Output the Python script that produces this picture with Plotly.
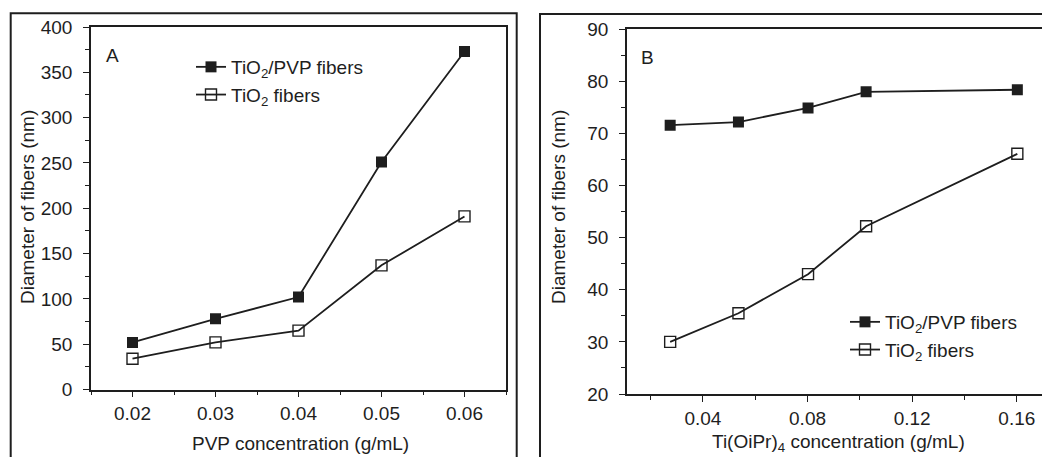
import plotly.graph_objects as go

W, H = 1050, 457
OFF = 8  # page body margin offset

# Panel A data
pvp_conc = [0.02, 0.03, 0.04, 0.05, 0.06]
a_tio2_pvp = [52, 78, 102, 251, 373]
a_tio2 = [34, 52, 65, 137, 191]

# Panel B data
ti_conc = [0.0275, 0.0536, 0.0802, 0.1024, 0.1602]
b_tio2_pvp = [71.6, 72.2, 74.9, 78.0, 78.4]
b_tio2 = [30.0, 35.5, 43.0, 52.2, 66.1]

name_pvp = "TiO<sub>2</sub>/PVP fibers"
name_tio2 = "TiO<sub>2</sub> fibers"

FONT = "Liberation Sans, Arial, sans-serif"
INK = "#1e1e1e"
FS = 19

def px(x):
    return (x - OFF) / W

def py(y):
    return 1 - (y - OFF) / H

fig = go.Figure()

line = dict(color=INK, width=1.8)
filled = dict(symbol="square", size=11, color=INK)
hollow = dict(symbol="square-open", size=11, color=INK, line=dict(width=1.4))

fig.add_trace(go.Scatter(x=pvp_conc, y=a_tio2_pvp, mode="lines+markers", name=name_pvp,
                         line=line, marker=filled,
                         xaxis="x", yaxis="y", legend="legend", legendgroup="a1"))
fig.add_trace(go.Scatter(x=pvp_conc, y=a_tio2, mode="lines+markers", name=name_tio2,
                         line=line, marker=hollow,
                         xaxis="x", yaxis="y", legend="legend", legendgroup="a2"))
fig.add_trace(go.Scatter(x=ti_conc, y=b_tio2_pvp, mode="lines+markers", name=name_pvp,
                         line=line, marker=filled,
                         xaxis="x2", yaxis="y2", legend="legend2", legendgroup="b1"))
fig.add_trace(go.Scatter(x=ti_conc, y=b_tio2, mode="lines+markers", name=name_tio2,
                         line=line, marker=hollow,
                         xaxis="x2", yaxis="y2", legend="legend2", legendgroup="b2"))

axis_common = dict(showline=True, mirror=True, linecolor=INK, linewidth=1.6,
                   ticks="outside", ticklen=6, tickwidth=1.4, tickcolor=INK,
                   showgrid=False, zeroline=False, automargin=False,
                   tickfont=dict(family=FONT, size=FS, color=INK))

fig.update_layout(
    width=W, height=H,
    margin=dict(l=0, r=0, t=0, b=0, pad=0),
    paper_bgcolor="white", plot_bgcolor="white",
    font=dict(family=FONT, size=FS, color=INK),
    xaxis=dict(domain=[px(91), px(506)], range=[0.015, 0.065], tick0=0.02, dtick=0.01,
               tickformat=".2f", anchor="y",
               minor=dict(dtick=0.005, tick0=0.015, ticklen=4, tickcolor=INK, ticks="outside"),
               **axis_common),
    yaxis=dict(domain=[py(389.5), py(27)], range=[0, 400], dtick=50, anchor="x",
               ticklabelstandoff=7,
               minor=dict(dtick=25, ticklen=4, tickcolor=INK, ticks="outside"),
               **axis_common),
    xaxis2=dict(domain=[px(627), px(1049)], range=[0.011, 0.1723], tick0=0, dtick=0.04,
                tickformat=".2f", anchor="y2",
                minor=dict(dtick=0.02, tick0=0, ticklen=4, tickcolor=INK, ticks="outside"),
                **axis_common),
    yaxis2=dict(domain=[py(394), py(29.3)], range=[20, 90], dtick=10, anchor="x2",
                ticklabelstandoff=7,
                minor=dict(dtick=5, ticklen=4, tickcolor=INK, ticks="outside"),
                **axis_common),
    legend=dict(x=px(191), y=py(48), xanchor="left", yanchor="top",
                font=dict(family=FONT, size=FS, color=INK), bgcolor="rgba(0,0,0,0)",
                traceorder="grouped", tracegroupgap=0),
    legend2=dict(x=px(845), y=py(303), xanchor="left", yanchor="top",
                 font=dict(family=FONT, size=FS, color=INK), bgcolor="rgba(0,0,0,0)",
                 traceorder="grouped", tracegroupgap=0),
    showlegend=True,
)

annotations = [
    dict(text="A", x=px(112), y=py(55)),
    dict(text="B", x=px(647), y=py(57)),
    dict(text="Diameter of fibers (nm)", x=px(27), y=py(207), textangle=-90),
    dict(text="PVP concentration (g/mL)", x=px(300), y=py(443)),
    dict(text="Diameter of fibers (nm)", x=px(558), y=py(207), textangle=-90),
    dict(text="Ti(OiPr)<sub>4</sub> concentration (g/mL)", x=px(838), y=py(443)),
]
fig.update_layout(annotations=[dict(a, xref="paper", yref="paper", showarrow=False,
                                    xanchor="center", yanchor="middle",
                                    font=dict(family=FONT, size=FS, color=INK))
                               for a in annotations])

# outer panel frames
fig.add_shape(type="rect", xref="paper", yref="paper", x0=px(10.7), x1=px(516.7),
              y0=py(480), y1=py(13.3), line=dict(color=INK, width=2))
fig.add_shape(type="rect", xref="paper", yref="paper", x0=px(540), x1=px(1080),
              y0=py(480), y1=py(14), line=dict(color=INK, width=2))

fig.write_html("out.html")
